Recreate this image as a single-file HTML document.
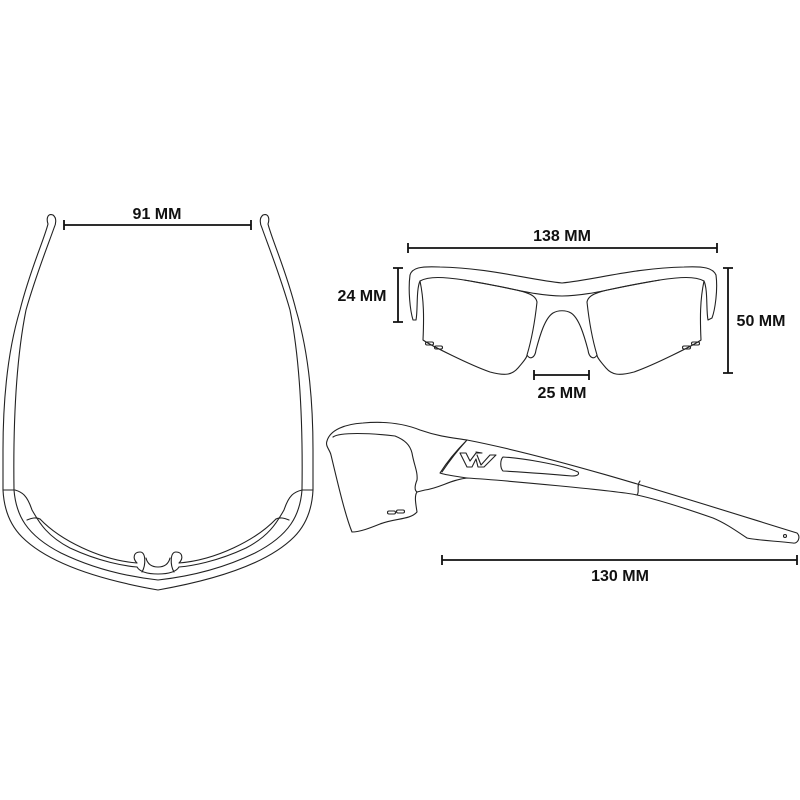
<!DOCTYPE html>
<html><head><style>html,body{margin:0;padding:0;background:#fff}svg{display:block}</style></head><body>
<svg width="800" height="800" viewBox="0 0 800 800" xmlns="http://www.w3.org/2000/svg">
<g fill="none" stroke="#222" stroke-width="1.1" stroke-linejoin="round" stroke-linecap="round">
<!-- top view -->
<path d="M53,215 C48,213 46,218 48,224 C44,240 30,270 20,310 C8,350 3,400 3,450 L3,490 C4,510 10,525 22,537 C45,560 90,578 158,590 C226,578 271,560 294,537 C306,525 312,510 313,490 L313,450 C313,400 308,350 296,310 C286,270 272,240 268,224 C270,218 268,213 263,215 C259,218 260,224 262,228 C268,245 280,275 290,310 C300,360 303,420 302,490 C300,515 290,535 255,553 C220,570 185,577 158,580 C131,577 96,570 61,553 C26,535 16,515 14,490 C13,420 16,360 26,310 C36,275 48,245 54,228 C56,224 57,218 53,215 Z"/>
<path d="M3,490 L15,490 M302,490 L313,490"/>
<path d="M15,490 C22,492 27,495 32,510 C38,520 45,535 70,548 C100,562 125,566 137,567 M302,490 C294,492 289,495 284,510 C278,520 271,535 246,548 C216,562 191,566 179,567"/>
<path d="M27,520 C32,518 36,517 40,519 M289,520 C284,518 280,517 276,519"/>
<path d="M40,519 C60,540 100,560 137,563 M276,519 C256,540 216,560 179,563"/>
<path d="M137,567 C140,572 148,574 158,574 C168,574 176,572 179,567"/>
<path d="M137,563 C132,558 134,552 140,552 C146,552 146,565 142,572 M179,563 C184,558 182,552 176,552 C170,552 170,565 174,572"/>
<path d="M146,558 C148,566 154,567 158,567 C162,567 168,566 170,558"/>
<!-- front view -->
<path d="M410,275 C412,268 420,266 440,267 C490,268 530,280 562,283 C594,280 634,268 684,267 C704,266 713,268 716,275 C718,290 715,310 712,318 L708,320 C706,310 708,290 704,281 C695,276 680,277 660,280 C620,286 590,296 562,296 C534,296 504,286 464,280 C444,277 429,276 420,281 C416,290 418,310 416,320 L413,320 C410,310 408,290 410,275 Z"/>
<path d="M420,281 C424,300 424,318 423,340 C430,345 470,365 490,372 C505,376 512,375 518,368 C525,360 527,357 527,355 C530,345 534,330 537,302 C535,292 520,290 464,280"/>
<path d="M704,281 C700,300 700,318 701,340 C694,345 654,365 634,372 C619,376 612,375 606,368 C599,360 597,357 597,355 C594,345 590,330 587,302 C589,292 604,290 660,280"/>
<path d="M527,355 C530,360 535,358 536,350 C540,335 545,318 553,313 C558,310 566,310 571,313 C579,318 584,335 588,350 C589,358 594,360 597,355"/>
<path d="M427,342 h5 a1.5,1.5 0 0 1 0,3 h-5 a1.5,1.5 0 0 1 0,-3 Z M436,346 h5 a1.5,1.5 0 0 1 0,3 h-5 a1.5,1.5 0 0 1 0,-3 Z M684,346 h5 a1.5,1.5 0 0 1 0,3 h-5 a1.5,1.5 0 0 1 0,-3 Z M693,342 h5 a1.5,1.5 0 0 1 0,3 h-5 a1.5,1.5 0 0 1 0,-3 Z"/>
<!-- side view -->
<path d="M327,441 C330,430 345,424 363,423 C385,421 405,424 420,430 C440,437 455,438 467,440 C560,458 690,500 797,533 C801,537 798,544 793,543 C775,541 755,540 747,538 C735,530 725,523 713,518 C690,510 660,500 637,495 C620,491 500,480 467,478 C450,480 440,488 425,490 L417,492 C414,496 416,505 417,512 C410,520 395,518 380,524 C370,528 360,532 352,532 C345,515 337,480 331,455 C330,450 325,446 327,441 Z"/>
<path d="M333,437 C340,432 370,433 395,436 C405,440 410,445 412,453 C414,465 418,472 417,480 C415,485 414,490 417,492"/>
<path d="M467,440 C455,452 445,465 440,473 C445,475 455,476 467,478 M467,440 C456,452 446,466 442,472"/>
<path d="M640,481 C636,486 640,492 637,495"/>
<path d="M460,453 L466,453 L470,461 L476,453 L482,453 L476,452 M460,453 L467,467 L472,467 L476,459 L478,467 L484,467 L496,455 L490,455 L481,465 L477,455"/>
<path d="M503,457 C520,458 560,464 578,472 C580,475 576,476 572,476 C550,474 520,472 503,471 C500,468 500,460 503,457 Z"/>
<path d="M389,511 h5 a1.5,1.5 0 0 1 0,3 h-5 a1.5,1.5 0 0 1 0,-3 Z M398,510 h5 a1.5,1.5 0 0 1 0,3 h-5 a1.5,1.5 0 0 1 0,-3 Z"/>
<circle cx="785" cy="536" r="1.5"/>
</g>
<!-- dimensions -->
<g stroke="#111" stroke-width="1.8" fill="none">
<path d="M64,225 H251 M64,220 V230 M251,220 V230"/>
<path d="M408,248 H717 M408,243 V253 M717,243 V253"/>
<path d="M398,268 V322 M393,268 H403 M393,322 H403"/>
<path d="M728,268 V373 M723,268 H733 M723,373 H733"/>
<path d="M534,375 H589 M534,370 V380 M589,370 V380"/>
<path d="M442,560 H797 M442,555 V565 M797,555 V565"/>
</g>
<g font-family="Liberation Sans, sans-serif" font-size="16" font-weight="bold" fill="#111" text-anchor="middle">
<text x="157" y="219">91 MM</text>
<text x="562" y="241">138 MM</text>
<text x="362" y="301">24 MM</text>
<text x="761" y="326">50 MM</text>
<text x="562" y="398">25 MM</text>
<text x="620" y="581">130 MM</text>
</g>
</svg>
</body></html>
